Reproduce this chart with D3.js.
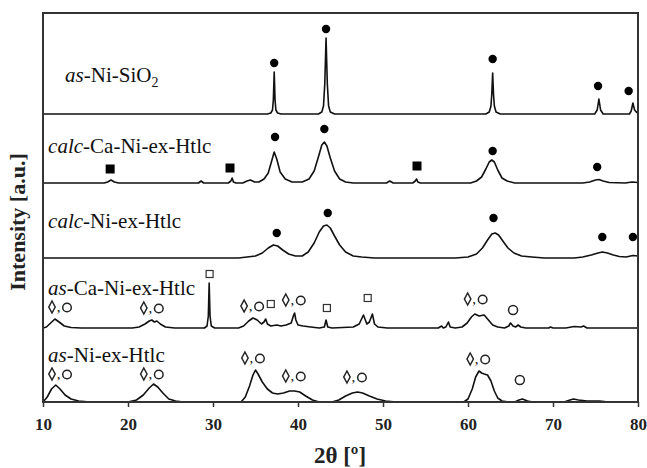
<!DOCTYPE html>
<html><head><meta charset="utf-8">
<script src="https://cdn.jsdelivr.net/npm/d3@7"></script>
<style>body{margin:0;background:#fff}svg{display:block}</style>
</head><body>
<svg id="c" width="647" height="468"></svg>
<script>
// ---- data (2θ, intensity above own baseline, arbitrary units) ----
const xTicks = [10, 20, 30, 40, 50, 60, 70, 80];
const sampleNames = [
  ["as", "-Ni-SiO", "2"],
  ["calc", "-Ca-Ni-ex-Htlc", ""],
  ["calc", "-Ni-ex-Htlc", ""],
  ["as", "-Ca-Ni-ex-Htlc", ""],
  ["as", "-Ni-ex-Htlc", ""]
];
const offsets = [288, 219, 144, 74, 0];
const labelY = [320, 249, 174, 107, 40];
const labelX = [12.6, 10.6, 10.6, 10.6, 10.6];

const asNiSiO2 = [[10,0],[36.4,0],[36.8,1],[37.0,4],[37.1,14],[37.2,42],[37.3,14],[37.4,4],[37.6,1],[38.0,0],
 [42.4,0],[42.8,2],[43.0,8],[43.15,30],[43.3,76],[43.45,30],[43.6,8],[43.8,2],[44.3,0],
 [62.1,0],[62.5,2],[62.7,8],[62.8,20],[62.9,41],[63.0,20],[63.1,8],[63.3,2],[63.8,0],
 [74.9,0],[75.2,4],[75.4,15],[75.6,4],[75.9,0],[79.0,0],[79.2,3],[79.4,11],[79.6,4],[79.8,2],[80,1]];
const calcCaNi = [[10,0],[17.2,0],[17.6,1],[18.0,3],[18.4,1],[18.9,0],[28.3,0],[28.6,2],[28.9,0],[31.8,0],[32.1,2],[32.25,5],[32.4,1],[32.7,0],[33.5,0],[34.0,2],[34.4,3],[34.9,1],[35.4,1],[36.0,4],[36.5,10],[36.9,22],[37.2,31],[37.5,24],[37.9,11],[38.5,4],[39.3,1],[40.5,1],[41.3,4],[41.9,12],[42.4,26],[42.8,38],[43.1,41],[43.4,37],[43.8,25],[44.3,12],[44.9,4],[45.6,1],[46.5,0],[50.4,0],[50.8,2],[51.2,0],[53.5,0],[53.8,2],[53.95,4],[54.1,1],[54.4,0],
 [60.3,0],[61.0,2],[61.6,6],[62.1,14],[62.5,21],[62.8,23],[63.1,21],[63.5,13],[64.0,5],[64.6,2],[65.5,0],
 [73.5,0],[74.3,1],[75.0,3],[75.4,3.5],[75.9,2],[76.6,0.5],[78.5,0],[79.3,1],[80,0.5]];
const calcNi = [[10,0],[33.0,0],[34.0,1],[35.0,2],[35.8,5],[36.5,10],[37.1,13],[37.6,12],[38.2,8],[38.9,4],[39.7,2],[40.5,2],[41.2,6],[41.9,15],[42.5,26],[43.0,32],[43.4,33],[43.8,30],[44.3,22],[44.9,13],[45.6,6],[46.5,2],[47.5,1],[49,0],
 [58.5,0],[60,1],[61,4],[61.7,10],[62.3,18],[62.8,24],[63.2,25],[63.6,23],[64.1,17],[64.7,10],[65.4,5],[66.3,2],[67.5,1],[69,0],
 [72.5,0],[73.5,1],[74.5,3],[75.3,5],[75.8,6],[76.4,5],[77.1,3],[77.8,1.5],[78.6,1],[79.4,2.5],[80,2]];
const asCaNi = [[10,0],[10.4,1],[10.9,5],[11.4,9],[11.9,6],[12.5,2],[13.3,0.5],[14.5,0],[20.5,0],[21.3,1],[22.0,4],[22.5,7],[22.8,8],[23.1,6],[23.4,7],[23.8,4],[24.4,1],[25.5,0],
 [29.0,0],[29.3,2],[29.45,12],[29.55,45],[29.65,12],[29.8,2],[30.2,0],
 [33.0,0],[33.6,2],[34.2,7],[34.7,10],[35.2,8],[35.7,4],[36.0,6],[36.2,9],[36.4,4],[36.8,2],[37.5,3],[38.0,2],[38.6,3],[39.2,5],[39.45,12],[39.6,15],[39.75,8],[40.0,3],[40.6,2],[41.5,1],[42.5,0],[43.1,1],[43.3,8],[43.5,1],[44.0,0],
 [46.5,1],[47.2,4],[47.7,13],[48.1,4],[48.4,6],[48.75,14],[49.0,4],[49.4,1],[50.5,0],
 [56.5,0],[56.9,2],[57.1,0],[57.4,1],[57.7,6],[57.9,1],[58.5,0],[59.3,1],[59.9,5],[60.4,11],[60.8,14],[61.3,12],[61.9,13],[62.4,8],[62.9,3],[63.5,1],[64.3,0],[64.8,2],[65.0,5],[65.3,2],[65.6,1],[65.9,3],[66.2,1],[66.8,0],[69.5,0],[69.7,1],[70,0],[71.5,0],[72.5,1.5],[73.3,1],[73.6,2],[74.0,0],[80,0]];
const asNi = [[10,0],[10.5,5],[11.0,13],[11.5,17],[12.0,13],[12.6,7],[13.3,3],[14.2,1],[15.5,0],
 [20.0,0],[21.0,2],[21.8,7],[22.5,14],[23.0,18],[23.5,15],[24.1,9],[24.8,3],[25.6,1],[26.5,0],
 [33.3,0],[33.8,5],[34.3,16],[34.7,27],[35.0,32],[35.3,28],[35.8,20],[36.4,13],[37.0,9],[37.6,8],[38.3,9],[39.0,11],[39.6,11],[40.2,10],[40.9,6],[41.7,2],[42.5,0],
 [44.0,0],[44.8,2],[45.6,6],[46.4,9],[47.0,10],[47.6,9],[48.4,6],[49.3,3],[50.3,1],[51.5,0],
 [59.5,0],[60.0,3],[60.5,13],[60.9,25],[61.3,31],[61.6,29],[61.9,28],[62.3,27],[62.7,21],[63.1,11],[63.5,4],[64.0,1],[64.8,0],
 [65.5,0],[66.0,2],[66.4,3],[67.0,1],[67.6,0],[71.3,0],[72.0,2],[72.4,3],[73.0,2],[74.0,1],[75.5,1],[76.5,0],[80,0]];
const traces = [asNiSiO2, calcCaNi, calcNi, asCaNi, asNi];

// markers: [2θ, absolute intensity]
const filledCircles = [[37.2,339],[43.3,373],[62.9,343],[75.3,316],[78.9,311],
  [37.3,265],[43.1,273],[62.9,251],[75.2,235],
  [37.5,169],[43.5,189],[63.0,184],[75.8,165],[79.4,165]];
const filledSquares = [[17.9,233],[32.0,234],[54.0,236]];
const openSquares = [[29.6,128],[36.8,98],[43.4,94],[48.2,104]];
const diamondCircle = [[12.0,95],[22.8,94],[34.6,96],[39.5,102],[60.9,103],
  [12.0,28],[22.8,28],[34.7,44],[39.5,26],[46.7,25],[61.2,43]];
const openCircles = [[65.3,92],[66.1,22]];

// ---- layout ----
const svg = d3.select("#c");
const L = 43, R = 638, T = 13, B = 402;
const x = d3.scaleLinear().domain([10, 80]).range([L, R]);
const y = d3.scaleLinear().domain([0, 389]).range([B, T]);
const serif = "Liberation Serif, Times New Roman, serif";

// traces
const line = d3.line().x(d => x(d[0])).y(d => y(d[1]));
traces.forEach((t, i) => {
  svg.append("path")
    .attr("d", line(t.map(p => [p[0], p[1] + offsets[i]])))
    .attr("fill", "none").attr("stroke", "#111").attr("stroke-width", 1.6)
    .attr("stroke-linejoin", "round");
});

// frame
svg.append("rect").attr("x", L).attr("y", T).attr("width", R - L).attr("height", B - T)
  .attr("fill", "none").attr("stroke", "#333").attr("stroke-width", 2);

// x axis
const xAxis = d3.axisBottom(x).tickValues(xTicks).tickSize(5).tickSizeOuter(0).tickFormat(d3.format("d"));
const gx = svg.append("g").attr("transform", `translate(0,${B})`).call(xAxis)
  .attr("font-family", null).attr("font-size", null);
gx.select(".domain").remove();
gx.selectAll(".tick line").attr("stroke", "#333").attr("stroke-width", 1.5);
gx.selectAll(".tick text")
  .style("font-family", serif).style("font-weight", "700").style("font-size", "17px")
  .attr("fill", "#222").attr("dy", null).attr("y", 28);

// axis titles
svg.append("text").attr("x", 340).attr("y", 463).attr("text-anchor", "middle")
  .style("font-family", serif).style("font-weight", "700").style("font-size", "23px").attr("fill", "#222")
  .text("2θ [º]");
svg.append("text").attr("transform", "translate(25,222) rotate(-90)").attr("text-anchor", "middle")
  .style("font-family", serif).style("font-weight", "700").style("font-size", "22px").attr("fill", "#222")
  .text("Intensity [a.u.]");

// sample labels
sampleNames.forEach((n, i) => {
  const t = svg.append("text").attr("x", x(labelX[i])).attr("y", y(labelY[i]))
    .style("font-family", serif).style("font-size", "21px").attr("fill", "#111");
  t.append("tspan").style("font-style", "italic").text(n[0]);
  t.append("tspan").text(n[1]);
  if (n[2]) t.append("tspan").style("font-size", "14px").attr("dy", 5).text(n[2]);
});

// markers
svg.selectAll(".fc").data(filledCircles).join("circle")
  .attr("cx", d => x(d[0])).attr("cy", d => y(d[1])).attr("r", 4.2).attr("fill", "#000");
svg.selectAll(".fs").data(filledSquares).join("rect")
  .attr("x", d => x(d[0]) - 4.5).attr("y", d => y(d[1]) - 4.5).attr("width", 9).attr("height", 9).attr("fill", "#000");
svg.selectAll(".os").data(openSquares).join("rect")
  .attr("x", d => x(d[0]) - 3.5).attr("y", d => y(d[1]) - 3.5).attr("width", 7).attr("height", 7)
  .attr("fill", "none").attr("stroke", "#333").attr("stroke-width", 1.2);
svg.selectAll(".oc").data(openCircles).join("circle")
  .attr("cx", d => x(d[0])).attr("cy", d => y(d[1])).attr("r", 4.5)
  .attr("fill", "none").attr("stroke", "#222").attr("stroke-width", 1.5);
const dc = svg.selectAll(".dc").data(diamondCircle).join("g")
  .attr("transform", d => `translate(${x(d[0])},${y(d[1])})`);
dc.append("path").attr("d", "M-8,-6 L-4.8,0 L-8,6 L-11.2,0 Z")
  .attr("fill", "none").attr("stroke", "#222").attr("stroke-width", 1.5);
dc.append("text").attr("x", -1.5).attr("y", 5).attr("text-anchor", "middle")
  .style("font-family", serif).style("font-size", "15px").attr("fill", "#222").text(",");
dc.append("circle").attr("cx", 7).attr("cy", 0.5).attr("r", 4.3)
  .attr("fill", "none").attr("stroke", "#222").attr("stroke-width", 1.5);
</script>
</body></html>
